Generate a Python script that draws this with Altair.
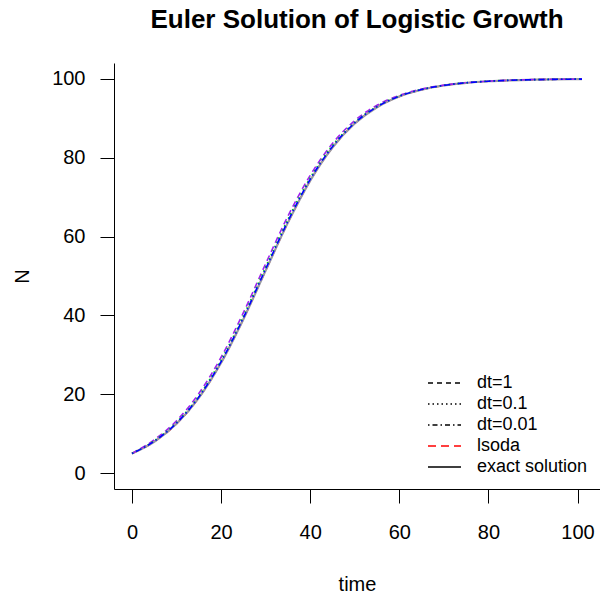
import altair as alt
import pandas as pd

time = [0, 5, 10, 15, 20, 25, 30, 35, 40, 45, 50, 55, 60, 65, 70, 75, 80, 85, 90, 95, 100, 101]
exact = [5, 7.98, 12.52, 19.08, 28.00, 39.06, 51.39, 63.53, 74.18, 82.57, 88.65, 92.79, 95.50,
         97.22, 98.30, 98.96, 99.37, 99.62, 99.77, 99.86, 99.91, 99.92]
lsoda = [5, 7.98, 12.52, 19.08, 28.00, 39.06, 51.39, 63.53, 74.18, 82.57, 88.65, 92.79, 95.50,
         97.22, 98.30, 98.96, 99.37, 99.62, 99.77, 99.86, 99.91, 99.92]
dt1 = [5, 8.5, 13.3, 20.2, 29.4, 40.7, 53.1, 65.2, 75.5, 83.6, 89.4, 93.3, 95.8,
       97.4, 98.4, 99.0, 99.4, 99.65, 99.8, 99.88, 99.92, 99.93]
dt01 = [5, 8.25, 12.9, 19.6, 28.7, 39.9, 52.3, 64.4, 74.9, 83.1, 89.0, 93.0, 95.65,
        97.3, 98.35, 99.0, 99.4, 99.63, 99.78, 99.87, 99.91, 99.92]
dt001 = [5, 8.1, 12.7, 19.3, 28.3, 39.4, 51.8, 63.9, 74.5, 82.8, 88.8, 92.9, 95.57,
         97.26, 98.32, 98.98, 99.38, 99.62, 99.77, 99.86, 99.91, 99.92]

legend_labels = ["dt=1", "dt=0.1", "dt=0.01", "lsoda", "exact solution"]
legend_colors = ["black", "black", "black", "red", "black"]
legend_dashes = [[5, 4], [1.5, 3], [1.5, 3, 5, 3], [8, 5], [1, 0]]

FONT = "Liberation Sans"
W, H = 486, 426

xs = alt.Scale(domain=[-4.04, 105.04], nice=False, zero=False)
ys = alt.Scale(domain=[-4, 104], nice=False, zero=False)

x_axis = alt.Axis(values=[0, 20, 40, 60, 80, 100], grid=False, tickSize=14, tickColor="black",
                  domainColor="black", labelFontSize=20, labelFont=FONT, labelColor="black",
                  labelPadding=19, titleFontSize=20, titleFont=FONT, titleFontWeight="normal",
                  titleColor="black", titlePadding=32)
y_axis = alt.Axis(values=[0, 20, 40, 60, 80, 100], grid=False, tickSize=14, tickColor="black",
                  domainColor="black", labelFontSize=20, labelFont=FONT, labelColor="black",
                  labelPadding=15, titleFontSize=20, titleFont=FONT, titleFontWeight="normal",
                  titleColor="black", titlePadding=19)


def series(vals, color, dash, width, first=False):
    df = pd.DataFrame({"time": time, "N": vals})
    props = dict(color=color, strokeWidth=width, interpolate="monotone")
    if dash is not None:
        props["strokeDash"] = dash
    m = alt.Chart(df).mark_line(**props)
    if first:
        return m.encode(x=alt.X("time:Q", scale=xs, axis=x_axis, title="time"),
                        y=alt.Y("N:Q", scale=ys, axis=y_axis, title="N"))
    return m.encode(x=alt.X("time:Q", scale=xs), y=alt.Y("N:Q", scale=ys))


layers = [
    series(lsoda, "red", [8, 5], 1.5, first=True),
    series(exact, "#9a9aa2", None, 2.2),
    series(dt1, "#A020F0", [6, 4], 1.6),
    series(dt01, "#00DD00", [1.5, 3], 1.6),
    series(dt001, "#0000FF", [1.5, 3, 6, 3], 1.6),
]

row_y = [320, 341, 362, 383, 404]
for lab, col, dash, yy in zip(legend_labels, legend_colors, legend_dashes, row_y):
    ldf = pd.DataFrame({"label": [lab]})
    layers.append(alt.Chart(ldf).mark_rule(color=col, strokeDash=dash, strokeWidth=1.4).encode(
        x=alt.value(314), x2=alt.value(347), y=alt.value(yy)))
    layers.append(alt.Chart(ldf).mark_text(align="left", baseline="middle", fontSize=18,
                                           font=FONT, color="black").encode(
        x=alt.value(363), y=alt.value(yy), text="label:N"))

chart = alt.layer(*layers).properties(
    width=W, height=H,
    title=alt.Title("Euler Solution of Logistic Growth", fontSize=26, font=FONT,
                    fontWeight="bold", color="black", offset=30, anchor="middle"),
    autosize=alt.AutoSizeParams(type="none"),
    padding={"left": 114, "top": 63, "right": 0, "bottom": 105},
    background="white",
).configure_view(strokeWidth=0, strokeOpacity=0)

chart.save("out.html", embed_options={"renderer": "svg", "actions": False})
